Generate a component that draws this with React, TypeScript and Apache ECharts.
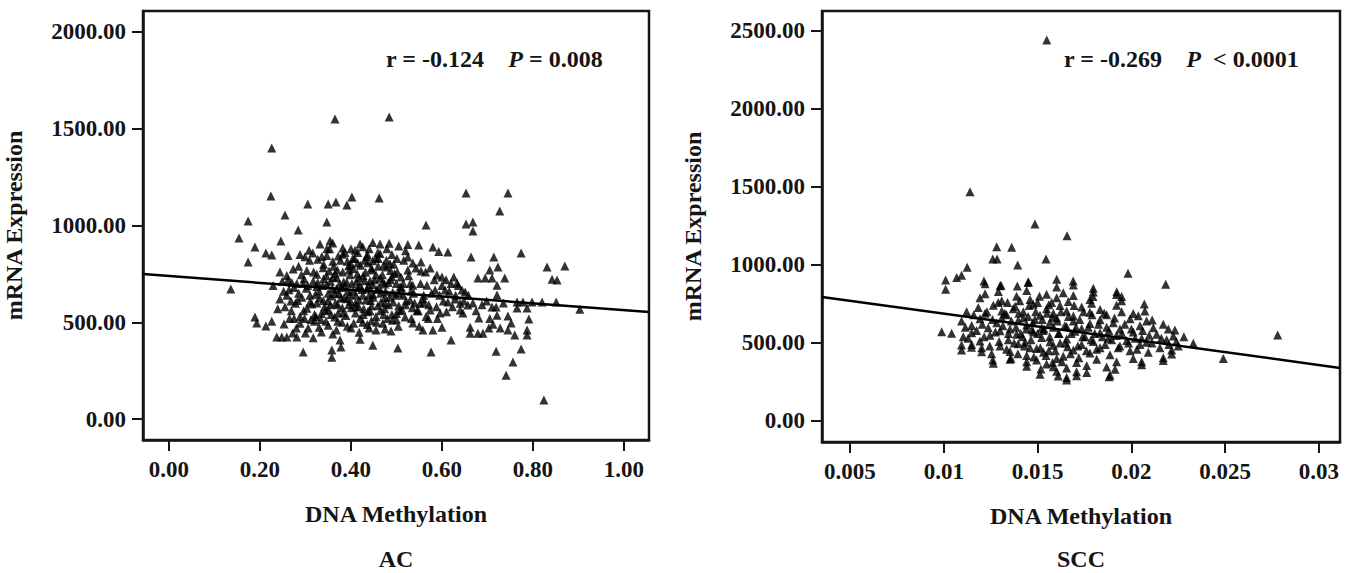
import React, { useEffect, useRef } from "react";
import * as echarts from "echarts";

// ---------- data ----------
const acXTicks = [0, 0.2, 0.4, 0.6, 0.8, 1.0];
const acYTicks = [0, 500, 1000, 1500, 2000];
const sccXTicks = [0.005, 0.01, 0.015, 0.02, 0.025, 0.03];
const sccYTicks = [0, 500, 1000, 1500, 2000, 2500];

const acStats = { r: "-0.124", p: "= 0.008" };
const sccStats = { r: "-0.269", p: " < 0.0001" };

const acFitLine = [[-0.057, 749], [1.055, 553]];
const sccFitLine = [[0.00351, 795], [0.03112, 340]];

const acPoints = [
  [0.365,1550],[0.484,1561],[0.226,1400],[0.224,1152],[0.305,1111],[0.350,1111],[0.367,1121],[0.391,1106],[0.402,1147],[0.462,1142],
  [0.174,1023],[0.255,1054],[0.347,1018],[0.154,935],[0.284,977],[0.246,920],[0.189,889],[0.213,858],[0.226,848],[0.174,811],
  [0.136,672],[0.189,527],[0.193,496],[0.213,481],[0.226,506],[0.253,491],[0.653,1168],[0.745,1168],[0.727,1075],[0.653,1008],
  [0.668,1018],[0.668,972],[0.565,1003],[0.774,858],[0.831,786],[0.870,791],[0.842,723],[0.853,718],
  [0.332,905],[0.347,880],[0.354,921],[0.360,910],[0.382,884],[0.409,872],[0.426,890],[0.448,912],[0.464,904],[0.484,908],[0.505,894],[0.525,902],[0.549,899],[0.580,889],[0.593,866],[0.613,863],
  [0.288,850],[0.299,838],[0.316,858],[0.327,826],[0.347,845],[0.360,815],[0.382,852],[0.404,829],[0.415,806],[0.435,840],[0.448,818],[0.464,855],[0.486,803],[0.501,830],[0.472,795],[0.395,792],[0.340,800],[0.525,837],[0.536,806],[0.554,812],[0.664,837],[0.714,837],[0.723,786],[0.308,872],[0.262,845],
  [0.244,760],[0.259,742],[0.273,775],[0.297,725],[0.303,768],[0.325,748],[0.339,782],[0.361,733],[0.382,760],[0.405,778],[0.427,740],[0.446,770],[0.464,728],[0.478,785],[0.496,752],[0.510,734],[0.525,770],[0.554,765],[0.574,780],[0.589,744],[0.600,734],[0.626,734],[0.705,770],[0.352,765],[0.418,730],[0.285,790],
  [0.229,690],[0.249,712],[0.264,668],[0.281,700],[0.302,676],[0.317,712],[0.330,660],[0.347,695],[0.368,672],[0.391,707],[0.405,660],[0.420,690],[0.442,715],[0.457,670],[0.474,698],[0.492,655],[0.508,684],[0.536,692],[0.567,692],[0.585,667],[0.607,667],[0.633,703],[0.644,667],[0.651,656],[0.679,729],[0.695,729],[0.710,729],[0.738,729],[0.721,692],[0.386,688],[0.435,672],[0.355,712],
  [0.244,620],[0.259,640],[0.278,598],[0.292,630],[0.310,605],[0.322,645],[0.339,612],[0.357,636],[0.371,590],[0.391,622],[0.410,600],[0.426,640],[0.443,612],[0.459,585],[0.475,628],[0.493,605],[0.515,640],[0.530,615],[0.552,599],[0.574,563],[0.596,548],[0.613,605],[0.640,599],[0.657,589],[0.640,563],[0.710,579],[0.719,579],[0.721,641],[0.765,605],[0.778,605],[0.798,605],[0.820,605],[0.851,605],[0.903,568],[0.365,648],[0.448,645],[0.505,585],[0.285,650],
  [0.269,560],[0.288,530],[0.303,572],[0.320,540],[0.334,515],[0.350,565],[0.364,528],[0.383,548],[0.401,575],[0.420,520],[0.437,555],[0.455,530],[0.474,570],[0.490,540],[0.500,515],[0.519,527],[0.545,560],[0.565,530],[0.590,520],[0.646,548],[0.681,522],[0.721,537],[0.765,574],[0.787,574],[0.745,532],[0.791,517],[0.410,548],[0.312,515],
  [0.288,495],[0.306,470],[0.320,505],[0.335,450],[0.350,485],[0.368,460],[0.380,500],[0.400,470],[0.418,448],[0.436,488],[0.455,460],[0.470,495],[0.488,455],[0.504,480],[0.536,496],[0.558,460],[0.580,460],[0.600,475],[0.662,475],[0.662,444],[0.679,444],[0.690,444],[0.703,470],[0.752,496],[0.745,460],[0.760,434],[0.787,460],[0.787,434],[0.426,500],[0.345,505],
  [0.317,420],[0.376,408],[0.420,412],[0.448,382],[0.503,367],[0.237,424],[0.248,424],[0.259,424],[0.281,424],[0.272,445],[0.620,408],
  [0.295,346],[0.358,320],[0.358,357],[0.378,372],[0.576,346],[0.719,351],[0.774,362],[0.756,295],[0.741,227],[0.824,98],
  [0.372,842],[0.392,815],[0.415,860],[0.437,808],[0.455,832],[0.478,820],[0.365,752],[0.398,745],[0.432,758],[0.455,745],[0.487,768],[0.375,700],[0.412,712],[0.448,695],[0.482,705],[0.515,700],
  [0.378,625],[0.398,645],[0.418,615],[0.465,650],[0.485,630],[0.532,660],[0.342,580],[0.395,590],[0.428,570],[0.465,560],[0.512,565],[0.335,545],[0.372,548],[0.445,508],[0.480,520],[0.392,480],[0.440,470],[0.475,465],
  [0.310,640],[0.325,685],[0.295,700],[0.270,705],[0.255,580],[0.265,520],[0.280,470],[0.300,445],[0.330,475],[0.360,440],[0.550,480],[0.570,520],[0.610,555],[0.630,640],[0.620,700],[0.600,690],[0.560,640],[0.540,600],[0.520,590],[0.500,700],[0.490,735],[0.460,790],[0.440,880],[0.420,905],[0.400,880],
  [0.283,612],[0.291,745],[0.296,560],[0.305,690],[0.309,820],[0.314,595],[0.318,760],[0.323,530],[0.327,705],[0.331,625],[0.336,840],[0.338,690],[0.343,560],[0.346,740],[0.349,610],[0.353,880],[0.356,540],[0.359,675],[0.362,790],[0.366,600],
  [0.369,730],[0.371,505],[0.374,650],[0.377,820],[0.381,575],[0.384,710],[0.387,860],[0.389,535],[0.393,660],[0.396,770],[0.399,610],[0.402,700],[0.406,495],[0.408,830],[0.411,640],[0.414,750],[0.417,580],[0.421,795],[0.424,670],[0.427,540],
  [0.430,715],[0.433,615],[0.436,850],[0.439,690],[0.442,560],[0.445,780],[0.449,630],[0.452,720],[0.456,500],[0.459,860],[0.462,680],[0.466,605],[0.469,745],[0.472,540],[0.476,660],[0.479,880],[0.483,590],[0.487,720],[0.491,510],[0.494,800],
  [0.498,640],[0.502,760],[0.507,560],[0.511,680],[0.516,820],[0.521,610],[0.527,740],[0.533,520],[0.538,650],[0.543,780],[0.548,560],[0.553,700],[0.559,620],[0.564,760],[0.571,590],[0.577,650],[0.583,720],[0.588,580],[0.595,640],[0.603,610],
  [0.609,720],[0.616,660],[0.623,580],[0.629,620],[0.636,690],[0.648,610],[0.658,640],[0.668,600],[0.675,560],[0.688,590],[0.698,610],[0.705,520],[0.712,490],[0.728,470],[0.735,600],[0.268,610],[0.275,680],[0.262,720],[0.252,660],[0.239,570],
  [0.275,520],[0.298,520],[0.325,600],[0.355,590],[0.385,625],[0.415,680],[0.445,585],[0.475,600],[0.505,650],[0.535,575],[0.340,725],[0.370,770],[0.400,800],[0.430,820],[0.460,830],[0.490,850],[0.520,870],[0.350,650],[0.380,680],[0.410,580],
  [0.440,640],[0.470,710],[0.500,545],[0.530,700],[0.560,600]
];

const sccPoints = [
  [0.01549,2442],[0.01140,1470],[0.01486,1263],[0.01657,1188],[0.01282,1117],[0.01362,1113],[0.01261,1038],[0.01284,1038],[0.01545,1038],[0.01394,1000],
  [0.01125,985],[0.01010,904],[0.01010,844],[0.01069,919],[0.01095,934],[0.01214,897],[0.01305,870],[0.01392,865],[0.01450,887],[0.01602,908],[0.01690,897],
  [0.01982,947],[0.02183,876],[0.02069,750],[0.01922,829],[0.01948,797],[0.01795,797],[0.01788,754],[0.02111,647],[0.02232,583],[0.02330,498],
  [0.00989,572],[0.01042,562],[0.01095,487],[0.01148,472],[0.01202,444],[0.01261,391],[0.01358,402],[0.01442,380],[0.01518,333],[0.01584,348],[0.01610,288],
  [0.01655,263],[0.01708,316],[0.01882,284],[0.01913,331],[0.02055,380],[0.02170,387],[0.02215,429],[0.0278,551],[0.0249,400],
  [0.01220,880],[0.01300,866],[0.01451,892],[0.01602,858],[0.01691,872],[0.01797,850],
  [0.01193,790],[0.01220,815],[0.01291,830],[0.01309,770],[0.01388,800],[0.01442,836],[0.01460,778],[0.01548,812],[0.01602,790],[0.01637,822],[0.01664,765],[0.01691,804],[0.01779,778],[0.01797,826],[0.01921,810],[0.01948,770],[0.01340,760],[0.01500,760],
  [0.01122,700],[0.01184,728],[0.01220,690],[0.01264,742],[0.01309,705],[0.01335,680],[0.01380,735],[0.01424,700],[0.01477,748],[0.01513,678],[0.01548,720],[0.01584,690],[0.01620,740],[0.01655,705],[0.01691,672],[0.01735,730],[0.01779,696],[0.01833,715],[0.01868,680],[0.01921,742],[0.01948,700],[0.02010,688],[0.02037,675],[0.02072,705],[0.01450,670],[0.01560,745],[0.01400,690],
  [0.01095,640],[0.01149,612],[0.01193,655],[0.01237,598],[0.01282,630],[0.01309,660],[0.01353,590],[0.01397,645],[0.01442,615],[0.01486,650],[0.01522,598],[0.01566,632],[0.01602,660],[0.01655,605],[0.01691,640],[0.01735,592],[0.01779,625],[0.01833,648],[0.01868,600],[0.01904,630],[0.01939,590],[0.01993,655],[0.02046,610],[0.02081,640],[0.02117,598],[0.02170,620],[0.02197,590],[0.01470,585],[0.01580,665],
  [0.01104,540],[0.01149,565],[0.01193,512],[0.01246,550],[0.01300,578],[0.01344,520],[0.01388,555],[0.01433,505],[0.01477,570],[0.01522,535],[0.01566,508],[0.01611,560],[0.01655,525],[0.01699,575],[0.01753,540],[0.01797,510],[0.01833,565],[0.01877,530],[0.01921,548],[0.01975,515],[0.02010,570],[0.02055,530],[0.02081,505],[0.02135,555],[0.02188,520],[0.02224,545],[0.01530,580],[0.01620,500],[0.01420,540],
  [0.01095,455],[0.01149,490],[0.01202,470],[0.01255,430],[0.01300,480],[0.01353,445],[0.01397,495],[0.01442,420],[0.01495,465],[0.01531,440],[0.01584,485],[0.01637,415],[0.01691,455],[0.01735,490],[0.01779,435],[0.01833,470],[0.01886,425],[0.01939,480],[0.01993,450],[0.02046,490],[0.02090,440],[0.02152,470],[0.02215,455],[0.01560,450],[0.01660,475],[0.01460,470],
  [0.01264,370],[0.01353,395],[0.01442,350],[0.01495,390],[0.01548,365],[0.01602,400],[0.01655,340],[0.01708,375],[0.01762,355],[0.01815,395],[0.01868,345],[0.01921,380],[0.02010,400],[0.02055,360],[0.02170,405],[0.01580,375],[0.01720,405],
  [0.01513,300],[0.01602,318],[0.01655,278],[0.01708,290],[0.01762,310],[0.01886,295],
  [0.02250,480],[0.02280,540],
  [0.01115,600],[0.01130,530],[0.01160,680],[0.01175,580],[0.01205,620],[0.01215,540],[0.01230,700],[0.01245,480],[0.01260,650],[0.01275,570],[0.01290,760],[0.01295,510],[0.01315,610],[0.01325,690],[0.01335,460],[0.01345,560],[0.01360,640],[0.01370,720],[0.01375,500],[0.01385,600],
  [0.01395,430],[0.01405,770],[0.01410,560],[0.01425,660],[0.01430,480],[0.01440,590],[0.01455,740],[0.01465,520],[0.01475,630],[0.01480,410],[0.01490,700],[0.01500,560],[0.01510,800],[0.01515,470],[0.01525,650],[0.01535,590],[0.01545,420],[0.01550,690],[0.01565,540],[0.01575,760],
  [0.01585,600],[0.01595,450],[0.01605,640],[0.01615,560],[0.01625,700],[0.01630,380],[0.01645,610],[0.01650,500],[0.01665,670],[0.01675,430],[0.01680,560],[0.01695,740],[0.01705,600],[0.01715,480],[0.01725,650],[0.01740,540],[0.01745,700],[0.01760,450],[0.01770,600],[0.01785,520],
  [0.01790,680],[0.01805,560],[0.01815,460],[0.01825,620],[0.01845,540],[0.01855,690],[0.01860,490],[0.01880,580],[0.01895,520],[0.01910,660],[0.01930,470],[0.01950,560],[0.01965,620],[0.01985,500],[0.02000,590],[0.02020,530],[0.02030,460],[0.02060,580],[0.02095,550],[0.02110,500],
  [0.02160,530],[0.02200,490],[0.02240,510]
];

// ---------- styling ----------
const FONT = "'Liberation Serif', 'Times New Roman', serif";
const INK = "#151515";

function makeXAxis(gridIndex: number, min: number, max: number, ticks: number[], fmt: (v: number) => string) {
  return {
    gridIndex, type: "value", min, max,
    name: "DNA Methylation", nameLocation: "middle", nameGap: 62,
    nameTextStyle: { fontFamily: FONT, fontWeight: "bold", fontSize: 24, color: INK },
    axisLine: { show: true, onZero: false, lineStyle: { color: INK, width: 2.5 } },
    axisTick: { show: true, customValues: ticks, length: 11, lineStyle: { color: INK, width: 2 } },
    axisLabel: { customValues: ticks, formatter: fmt, margin: 18, fontFamily: FONT, fontWeight: "bold", fontSize: 23, color: INK },
    splitLine: { show: false },
  };
}
function makeYAxis(gridIndex: number, min: number, max: number, ticks: number[]) {
  return {
    gridIndex, type: "value", min, max,
    name: "mRNA Expression", nameLocation: "middle", nameGap: 117, nameRotate: 90,
    nameTextStyle: { fontFamily: FONT, fontWeight: "bold", fontSize: 24, color: INK },
    axisLine: { show: true, onZero: false, lineStyle: { color: INK, width: 2.5 } },
    axisTick: { show: true, customValues: ticks, length: 11, lineStyle: { color: INK, width: 2 } },
    axisLabel: { customValues: ticks, formatter: (v: number) => v.toFixed(2), margin: 17, fontFamily: FONT, fontWeight: "bold", fontSize: 23, color: INK },
    splitLine: { show: false },
  };
}

function statText(x: number, y: number, r: string, p: string) {
  const base = { fontFamily: FONT, fontWeight: "bold", fontSize: 24, fill: INK, color: INK };
  return {
    type: "text", x, y,
    style: {
      text: `{n|r = ${r}}{s|    }{i|P}{n| ${p}}`,
      verticalAlign: "middle",
      rich: { n: base, s: base, i: { ...base, fontStyle: "italic" } },
    },
  };
}

export default function App() {
  const ref = useRef<HTMLDivElement>(null);
  useEffect(() => {
    if (!ref.current) return;
    const chart = echarts.init(ref.current, undefined, { renderer: "svg" });
    chart.setOption({
      animation: false,
      backgroundColor: "#ffffff",
      grid: [
        { left: 143, right: 706, top: 11, bottom: 133, show: true, borderColor: INK, borderWidth: 2.5 },
        { left: 822, right: 15, top: 11, bottom: 131, show: true, borderColor: INK, borderWidth: 2.5 },
      ],
      xAxis: [
        makeXAxis(0, -0.057, 1.055, acXTicks, (v: number) => v.toFixed(2)),
        makeXAxis(1, 0.00351, 0.03112, sccXTicks, (v: number) => String(parseFloat(v.toFixed(4)))),
      ],
      yAxis: [makeYAxis(0, -108, 2108, acYTicks), makeYAxis(1, -135, 2628, sccYTicks)],
      series: [
        { type: "scatter", xAxisIndex: 0, yAxisIndex: 0, data: acPoints, symbol: "triangle", symbolSize: 9, itemStyle: { color: "#000" } },
        { type: "line", xAxisIndex: 0, yAxisIndex: 0, data: acFitLine, symbol: "none", lineStyle: { color: "#000", width: 2.5 } },
        { type: "scatter", xAxisIndex: 1, yAxisIndex: 1, data: sccPoints, symbol: "triangle", symbolSize: 9, itemStyle: { color: "#000" } },
        { type: "line", xAxisIndex: 1, yAxisIndex: 1, data: sccFitLine, symbol: "none", lineStyle: { color: "#000", width: 2.5 } },
      ],
      graphic: [
        statText(386, 59, acStats.r, acStats.p),
        statText(1064, 59, sccStats.r, sccStats.p),
        { type: "text", x: 396, y: 559, style: { text: "AC", align: "center", verticalAlign: "middle", fontFamily: FONT, fontWeight: "bold", fontSize: 24, fill: INK } },
        { type: "text", x: 1081, y: 559, style: { text: "SCC", align: "center", verticalAlign: "middle", fontFamily: FONT, fontWeight: "bold", fontSize: 24, fill: INK } },
      ],
    });
    return () => chart.dispose();
  }, []);
  return <div ref={ref} style={{ position: "fixed", left: 0, top: 0, width: 1355, height: 573, background: "#fff" }} />;
}
